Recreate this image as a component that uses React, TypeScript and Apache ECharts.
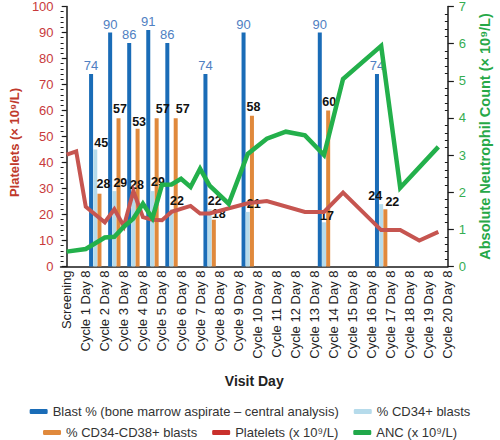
import { useEffect, useRef } from 'react';
import * as echarts from 'echarts';

const categories = [
  'Screening',
  'Cycle 1 Day 8', 'Cycle 2 Day 8', 'Cycle 3 Day 8', 'Cycle 4 Day 8', 'Cycle 5 Day 8',
  'Cycle 6 Day 8', 'Cycle 7 Day 8', 'Cycle 8 Day 8', 'Cycle 9 Day 8', 'Cycle 10 Day 8',
  'Cycle 11 Day 8', 'Cycle 12 Day 8', 'Cycle 13 Day 8', 'Cycle 14 Day 8', 'Cycle 15 Day 8',
  'Cycle 16 Day 8', 'Cycle 17 Day 8', 'Cycle 18 Day 8', 'Cycle 19 Day 8', 'Cycle 20 Day 8',
];

// bone marrow assessments (index of visit in categories)
const marrowVisit = [1, 2, 3, 4, 5, 7, 9, 13, 16];
const blastPct = [74, 90, 86, 91, 86, 74, 90, 90, 74];
const cd34Pct = [45, 29, 28, 29, 22, 22, 21, 17, 24];
const cd38Pct = [28, 57, 53, 57, 57, 18, 58, 60, 22];

// platelets (x 10^9/L), positions in visit units
const plateletDay = [0, 0.5, 1, 2, 2.5, 3, 3.5, 4, 4.5, 5, 5.5, 6.5, 7, 7.5, 9.5, 10.5, 12.5, 13.5, 14.5, 16.5, 17.5, 18.5, 19.5];
const plateletVal = [43, 44.3, 23, 17, 22, 15.5, 29, 19, 18, 17.8, 21, 23.3, 20.4, 20.4, 24.3, 25.2, 21, 21, 28.4, 14, 14, 10, 13.3];

// ANC (x 10^9/L)
const ancDay = [0, 1, 2, 2.5, 3, 3.5, 4, 4.5, 5, 5.5, 6, 6.5, 7, 7.5, 8.5, 9.5, 10.5, 11.5, 12.5, 13.5, 14.5, 16.5, 17.5, 19.5];
const ancVal = [0.4, 0.47, 0.78, 0.8, 1.07, 1.29, 1.69, 1.3, 2.2, 2.21, 2.36, 2.14, 2.63, 2.18, 1.69, 3.03, 3.44, 3.63, 3.53, 3.0, 5.05, 5.94, 2.12, 3.22];

const seriesNames = [
  'Blast % (bone marrow aspirate \u2013 central analysis)',
  '% CD34+ blasts',
  '% CD34-CD38+ blasts',
  'Platelets (x 10\u2079/L)',
  'ANC (x 10\u2079/L)',
];

// label nudges (style only)
const cd34LabelShift = [[6, 2], [6, 0.5], [3.5, 0], [5.5, -0.5], [5.5, 0.5], [5, 0.5], [6, 1], [3, 2], [-6, 0.5]];
const cd38LabelShift = [[4, -1.5], [1.5, -0.5], [1.5, 1.5], [6, -0.5], [7, -0.5], [5, 3], [1.5, 0], [1, -0.5], [7, 1]];

const FONT = '"Liberation Sans", Arial, Helvetica, sans-serif';
const AXIS = '#1a1a1a';

export default function App() {
  const ref = useRef<HTMLDivElement>(null);

  useEffect(() => {
    if (!ref.current) return;
    const chart = echarts.init(ref.current, undefined, { renderer: 'svg' });

    const barOffset = 0.22;
    const blastData = marrowVisit.map((v, i) => [v + 0.5 - barOffset, blastPct[i]]);
    const cd34Data = marrowVisit.map((v, i) => ({
      value: [v + 0.5, cd34Pct[i]],
      label: { offset: cd34LabelShift[i] },
    }));
    const cd38Data = marrowVisit.map((v, i) => ({
      value: [v + 0.5 + barOffset, cd38Pct[i]],
      label: { offset: cd38LabelShift[i] },
    }));

    const blackLabel = {
      show: true,
      position: 'top',
      distance: 2,
      formatter: (p: any) => String(p.value[1]),
      color: '#111',
      fontWeight: 'bold',
      fontSize: 12.5,
      fontFamily: FONT,
    };

    const option: any = {
      animation: false,
      textStyle: { fontFamily: FONT },
      grid: { left: 42, right: 40, top: 5, bottom: 173.5, containLabel: false },
      xAxis: {
        type: 'value',
        min: -0.32,
        max: 20,
        splitLine: { show: false },
        axisLine: { show: true, lineStyle: { color: AXIS, width: 1.5 } },
        axisTick: { show: false },
        axisLabel: {
          customValues: categories.map((_, i) => i),
          formatter: (v: number) => categories[Math.round(v)] ?? '',
          rotate: 90,
          fontSize: 13,
          color: '#222',
          margin: 4,
          showMinLabel: true,
          showMaxLabel: true,
          fontFamily: FONT,
        },
        name: 'Visit Day',
        nameLocation: 'middle',
        nameGap: 107,
        nameTextStyle: { fontWeight: 'bold', fontSize: 14, color: '#222', fontFamily: FONT },
      },
      yAxis: [
        {
          type: 'value',
          position: 'left',
          min: 0,
          max: 100,
          interval: 10,
          splitLine: { show: false },
          axisLine: { show: true, lineStyle: { color: AXIS, width: 1.5 } },
          axisTick: { show: true, length: 5, lineStyle: { color: AXIS, width: 1.2 } },
          axisLabel: { color: '#c8393b', fontSize: 13, margin: 7, fontFamily: FONT },
          name: 'Platelets (\u00d7 10\u2079/L)',
          nameLocation: 'middle',
          nameRotate: 90,
          nameGap: 27,
          nameTextStyle: { color: '#c0392b', fontWeight: 'bold', fontSize: 13, fontFamily: FONT, padding: [0, 12, 0, 0] },
        },
        {
          type: 'value',
          position: 'right',
          min: 0,
          max: 7,
          interval: 1,
          splitLine: { show: false },
          axisLine: { show: true, lineStyle: { color: AXIS, width: 1.5 } },
          axisTick: { show: true, length: 6, lineStyle: { color: AXIS, width: 1.2 } },
          axisLabel: { color: '#35ad52', fontSize: 13, margin: 11, fontFamily: FONT },
          name: 'Absolute Neutrophil Count (\u00d7 10\u2079/L)',
          nameLocation: 'middle',
          nameRotate: 90,
          nameGap: 25,
          nameTextStyle: { color: '#27a847', fontWeight: 'bold', fontSize: 14.5, fontFamily: FONT },
        },
        {
          type: 'value',
          position: 'left',
          min: 0,
          max: 100,
          interval: 10,
          splitLine: { show: false },
          axisLine: { show: false },
          axisLabel: { show: false },
          axisTick: { show: false, inside: true },
          minorTick: { show: true, splitNumber: 5, length: 3, lineStyle: { color: AXIS, width: 1 } },
        },
        {
          type: 'value',
          position: 'right',
          min: 0,
          max: 7,
          interval: 1,
          splitLine: { show: false },
          axisLine: { show: false },
          axisLabel: { show: false },
          axisTick: { show: false, inside: true },
          minorTick: { show: true, splitNumber: 5, length: 3, lineStyle: { color: AXIS, width: 1 } },
        },
      ],
      legend: [
        {
          data: [seriesNames[0], seriesNames[1]],
          top: 400,
          left: 'center',
          icon: 'roundRect',
          itemWidth: 18,
          itemHeight: 5,
          itemGap: 15,
          textStyle: { fontSize: 13, color: '#333', fontFamily: FONT },
        },
        {
          data: [seriesNames[2], seriesNames[3], seriesNames[4]],
          top: 421,
          left: 'center',
          icon: 'roundRect',
          itemWidth: 18,
          itemHeight: 5,
          itemGap: 15,
          textStyle: { fontSize: 13, color: '#333', fontFamily: FONT },
        },
      ],
      series: [
        {
          name: seriesNames[0],
          type: 'bar',
          yAxisIndex: 0,
          barWidth: 4,
          barGap: '-100%',
          itemStyle: { color: '#1a6cb7' },
          label: {
            show: true,
            position: 'top',
            distance: 2,
            formatter: (p: any) => String(p.value[1]),
            color: '#4f80c2',
            fontSize: 13,
            fontFamily: FONT,
          },
          data: blastData,
        },
        {
          name: seriesNames[1],
          type: 'bar',
          yAxisIndex: 0,
          barWidth: 4,
          barGap: '-100%',
          itemStyle: { color: '#b6dbeb' },
          label: blackLabel,
          data: cd34Data,
        },
        {
          name: seriesNames[2],
          type: 'bar',
          yAxisIndex: 0,
          barWidth: 4,
          barGap: '-100%',
          itemStyle: { color: '#e0893c' },
          label: blackLabel,
          data: cd38Data,
        },
        {
          name: seriesNames[3],
          type: 'line',
          yAxisIndex: 0,
          showSymbol: false,
          symbol: 'none',
          itemStyle: { color: '#c9302c' },
          lineStyle: { color: '#c65550', width: 4, join: 'miter' },
          data: plateletDay.map((d, i) => [d, plateletVal[i]]),
        },
        {
          name: seriesNames[4],
          type: 'line',
          yAxisIndex: 1,
          showSymbol: false,
          symbol: 'none',
          itemStyle: { color: '#21a84a' },
          lineStyle: { color: '#23b04b', width: 4.5, join: 'miter' },
          data: ancDay.map((d, i) => [d, ancVal[i]]),
        },
      ],
    };

    chart.setOption(option);
    return () => chart.dispose();
  }, []);

  return (
    <div
      ref={ref}
      style={{ position: 'fixed', left: 0, top: 0, width: 500, height: 440, background: '#fff' }}
    />
  );
}
